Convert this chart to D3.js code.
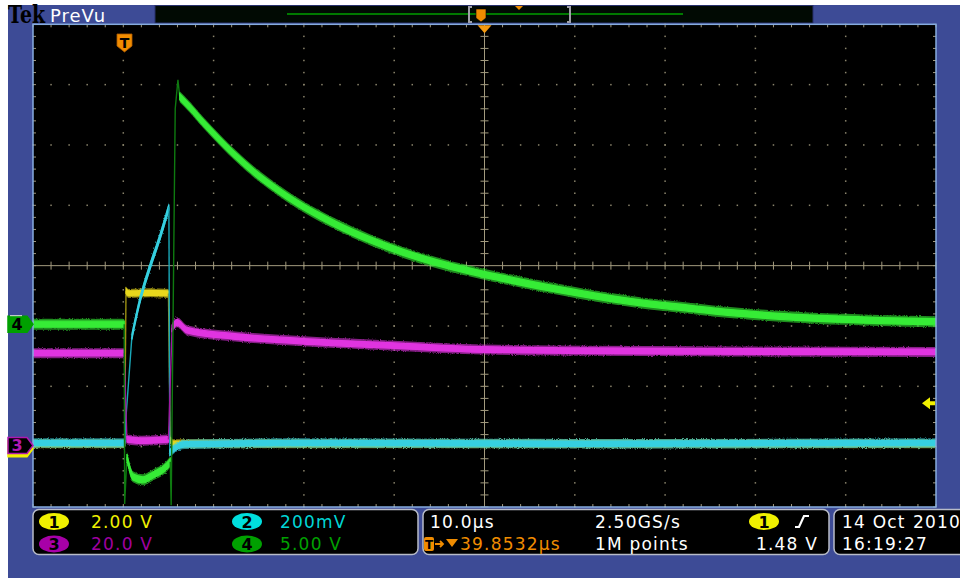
<!DOCTYPE html>
<html>
<head>
<meta charset="utf-8">
<script src="https://cdn.jsdelivr.net/npm/d3@7"></script>
<style>
  body { margin: 0; background: #fff; }
  svg text { font-family: "DejaVu Sans", sans-serif; }
</style>
</head>
<body>
<div id="scope"></div>
<script>
// trace data, [time in µs, position in divisions from centre]
var ch1 = [[0, -2.95], [10.15, -2.95], [10.3, -0.42], [10.6, -0.46], [13, -0.45], [15.0, -0.46], [15.2, -2.88], [15.5, -2.95], [40, -2.95], [100, -2.95]];
var ch2 = [[0, -2.94], [10.15, -2.94], [10.3, -2.5], [10.45, -2.2], [10.95, -1.18], [11.85, -0.57], [12.95, -0.02], [14.05, 0.47], [15.05, 0.97], [15.15, -3.1], [15.75, -3.02], [16.8, -2.96], [30, -2.94], [60, -2.95], [100, -2.94]];
var ch3 = [[0, -1.45], [10.1, -1.45], [10.4, -2.88], [12, -2.9], [15.0, -2.88], [15.4, -1.03], [15.95, -0.94], [17.05, -1.07], [22.1, -1.17], [29.6, -1.25], [40.6, -1.33], [49.9, -1.39], [62, -1.41], [73.9, -1.42], [100, -1.43]];
var ch4 = [[0, -0.97], [10.1, -0.97], [10.15, -3.95], [10.4, -3.17], [11.07, -3.5], [12.18, -3.55], [13.29, -3.47], [14.95, -3.3], [15.2, -3.25], [15.3, -3.97], [15.75, 2.6], [16.05, 3.08],
  [16.25, 2.8], [17.4, 2.62], [18.8, 2.38], [20.7, 2.08], [22.6, 1.8], [24.4, 1.56], [26.3, 1.34], [28.1, 1.15], [29.9, 0.98], [31.8, 0.82], [33.6, 0.68], [37.3, 0.43],
  [41.0, 0.22], [44.7, 0.05], [48.4, -0.09], [51.7, -0.2], [56.9, -0.36], [60.6, -0.46], [64.2, -0.55], [68.0, -0.63], [71.7, -0.69], [75.3, -0.75],
  [79.1, -0.8], [82.7, -0.84], [86.4, -0.87], [90.1, -0.89], [93.8, -0.91], [100, -0.93]];

var readoutRow1 = ["2.00 V", "200mV"];
var readoutRow2 = ["20.0 V", "5.00 V"];
var timebase = "10.0µs", delay = "39.8532µs", sampleRate = "2.50GS/s", recordLen = "1M points";
var trigLevel = "1.48 V", dateStr = ["14 Oct", "2010"], timeStr = "16:19:27";

var W = 960, H = 578;
var x = d3.scaleLinear().domain([0, 100]).range([33, 936]);
var y = d3.scaleLinear().domain([-4, 4]).range([507, 24.3]);

var svg = d3.select("#scope").append("svg").attr("width", W).attr("height", H);

var defs = svg.append("defs");
var glow = defs.append("filter").attr("id", "fuzz").attr("filterUnits", "userSpaceOnUse")
  .attr("x", 0).attr("y", 0).attr("width", W).attr("height", H);
glow.append("feTurbulence").attr("type", "fractalNoise").attr("baseFrequency", "1.4").attr("numOctaves", 1).attr("result", "n");
glow.append("feDisplacementMap").attr("in", "SourceGraphic").attr("in2", "n").attr("scale", 3.5).attr("result", "d");
glow.append("feGaussianBlur").attr("in", "d").attr("stdDeviation", 0.6);
defs.append("clipPath").attr("id", "plotClip").append("rect")
  .attr("x", x(0)).attr("y", y(4)).attr("width", x(100) - x(0)).attr("height", y(-4) - y(4));

// background
svg.append("rect").attr("x", 8).attr("y", 5).attr("width", W - 8).attr("height", H - 5).attr("fill", "#3d4b96");
svg.append("rect").attr("x", x(0)).attr("y", y(4)).attr("width", x(100) - x(0)).attr("height", y(-4) - y(4)).attr("fill", "#000");

// top bar
svg.append("text").attr("x", 8).attr("y", 22.5).attr("font-weight", "bold")
  .attr("font-size", 24).attr("textLength", 37).attr("lengthAdjust", "spacingAndGlyphs")
  .attr("fill", "#000").style("font-family", "DejaVu Serif").text("Tek");
svg.append("text").attr("x", 50).attr("y", 21.5).attr("font-size", 18).attr("letter-spacing", 1).attr("fill", "#fff").text("PreVu");
svg.append("rect").attr("x", 155).attr("y", 5.5).attr("width", 658).attr("height", 17.5).attr("fill", "#010a03").attr("stroke", "#28316c");
svg.append("line").attr("x1", 287).attr("x2", 683).attr("y1", 14).attr("y2", 14).attr("stroke", "#007a00").attr("stroke-width", 2);
svg.append("path").attr("d", "M472,7 L469,7 L469,22 L472,22 M567,7 L570,7 L570,22 L567,22").attr("fill", "none").attr("stroke", "#a0a0a8").attr("stroke-width", 2);
svg.append("path").attr("d", "M476,9 h10 v9 l-5,4 l-5,-4 z").attr("fill", "#f08c00").attr("stroke", "#000").attr("stroke-width", 0.6);
svg.append("path").attr("d", "M515,6 h8 l-4,4 z").attr("fill", "#f08c00");

// graticule
var g = svg.append("g");
var dotCol = "#8a846c", lineCol = "#a29a7e";
var minorX = d3.range(0, 100.01, 2), minorY = d3.range(-4, 4.01, 0.2);
x.ticks(10).forEach(function(t) {
  if (t === 0 || t === 100 || t === 50) return;
  g.selectAll(null).data(minorY).join("rect")
    .attr("x", x(t) - 0.75).attr("y", d => y(d) - 0.75).attr("width", 1.5).attr("height", 1.5).attr("fill", dotCol);
});
y.ticks(8).forEach(function(v) {
  if (v === 4 || v === -4 || v === 0) return;
  g.selectAll(null).data(minorX).join("rect")
    .attr("x", d => x(d) - 0.75).attr("y", y(v) - 0.75).attr("width", 1.5).attr("height", 1.5).attr("fill", dotCol);
});
g.append("line").attr("x1", x(0)).attr("x2", x(100)).attr("y1", y(0)).attr("y2", y(0)).attr("stroke", lineCol);
g.append("line").attr("x1", x(50)).attr("x2", x(50)).attr("y1", y(4)).attr("y2", y(-4)).attr("stroke", lineCol);
g.selectAll(null).data(minorX).join("line")
  .attr("x1", d => x(d)).attr("x2", d => x(d)).attr("y1", y(0) - 4).attr("y2", y(0) + 4).attr("stroke", lineCol);
g.selectAll(null).data(minorY).join("line")
  .attr("y1", d => y(d)).attr("y2", d => y(d)).attr("x1", x(50) - 4).attr("x2", x(50) + 4).attr("stroke", lineCol);
// edge ticks
g.selectAll(null).data(minorX).join("path")
  .attr("d", d => "M" + x(d) + "," + y(4) + "v3 M" + x(d) + "," + y(-4) + "v-3").attr("stroke", lineCol);
g.selectAll(null).data(minorY).join("path")
  .attr("d", d => "M" + x(0) + "," + y(d) + "h3 M" + x(100) + "," + y(d) + "h-3").attr("stroke", lineCol);

// traces: slow parts are a vertical noise band, fast edges a thin line
var tg = svg.append("g").attr("clip-path", "url(#plotClip)");
function band(h) {
  return d3.area().curve(d3.curveMonotoneX).x(d => d[0]).y0(d => d[1] + h / 2).y1(d => d[1] - h / 2);
}
function drawTrace(data, core, dim, h) {
  var pts = data.map(d => [x(d[0]), y(d[1])]);
  var runs = [], cur = null;
  for (var i = 1; i < pts.length; i++) {
    var steep = Math.abs(pts[i][1] - pts[i - 1][1]) > 8 * Math.abs(pts[i][0] - pts[i - 1][0]);
    if (!cur || cur.steep !== steep) { cur = {steep: steep, pts: [pts[i - 1]]}; runs.push(cur); }
    cur.pts.push(pts[i]);
  }
  runs.forEach(function(r) {
    if (r.steep) {
      tg.append("path").attr("d", d3.line()(r.pts)).attr("fill", "none").attr("stroke", dim).attr("stroke-width", 1.4);
    } else {
      tg.append("path").attr("d", band(h)(r.pts)).attr("fill", core).attr("opacity", 0.6).attr("filter", "url(#fuzz)");
      tg.append("path").attr("d", band(h * 0.55)(r.pts)).attr("fill", core).attr("stroke", core).attr("stroke-width", 1.3);
    }
  });
}
drawTrace(ch1, "#e8d81c", "#9c9010", 9);
drawTrace(ch2, "#36d0e0", "#1aa8b8", 9.5);
drawTrace(ch3, "#e034e0", "#a018a0", 10);
drawTrace(ch4, "#36ec36", "#0e7a10", 11);

// frame
svg.append("rect").attr("x", x(0)).attr("y", y(4)).attr("width", x(100) - x(0)).attr("height", y(-4) - y(4))
  .attr("fill", "none").attr("stroke", "#86acdf").attr("stroke-width", 1.5);

// trigger markers
svg.append("path").attr("d", "M" + (x(50) - 7) + "," + (y(4) + 1) + " h14 l-7,8 z").attr("fill", "#f59a10");
svg.append("path").attr("d", "M117,34 h15 v12 l-7.5,6 l-7.5,-6 z").attr("fill", "#f08c00").attr("stroke", "#b05a00").attr("stroke-width", 0.8);
svg.append("text").attr("x", 124.5).attr("y", 48).attr("text-anchor", "middle").attr("font-size", 14).attr("font-weight", "bold").attr("fill", "#000").text("T");
// trigger level arrow (ch1, 1.48 V at 2 V/div above ch1 ground)
var trigY = y(-3.02 + 1.48 / 2);
svg.append("path").attr("d", "M922," + trigY + " l8,-6 v4 h5 v4 h-5 v4 z").attr("fill", "#f0f000");

// channel ground markers on the left
function gndMarker(yy, fill, stroke, label, txtCol) {
  svg.append("path").attr("d", "M8," + (yy - 8) + " h19 l6,8 l-6,8 h-19 z")
    .attr("fill", fill).attr("stroke", stroke).attr("stroke-width", 1.5);
  svg.append("text").attr("x", 17).attr("y", yy + 6).attr("text-anchor", "middle").attr("font-size", 16).attr("font-weight", "bold")
    .attr("fill", txtCol).text(label);
}
gndMarker(y(-3.02) + 1, "#f0f000", "#f0f000", "", "#000");
gndMarker(y(-2.98), "#000", "#b018b0", "3", "#b018b0");
gndMarker(y(-0.97), "#00a000", "#00a000", "4", "#000");
svg.append("line").attr("x1", 10).attr("x2", 22).attr("y1", y(-0.97) - 8.5).attr("y2", y(-0.97) - 8.5).attr("stroke", "#e0e0e0");

// readout boxes
function box(x0, w) {
  svg.append("rect").attr("x", x0).attr("y", 509.5).attr("width", w).attr("height", 45).attr("rx", 6)
    .attr("fill", "#000").attr("stroke", "#b8bcc8").attr("stroke-width", 1.5);
}
box(33, 385); box(423, 406); box(834, 140);

function badge(cx, cy, fill, label) {
  svg.append("ellipse").attr("cx", cx).attr("cy", cy).attr("rx", 15).attr("ry", 8.5).attr("fill", fill);
  svg.append("text").attr("x", cx).attr("y", cy + 6).attr("text-anchor", "middle").attr("font-size", 16).attr("font-weight", "bold").attr("fill", "#000").text(label);
}
function txt(xx, yy, s, col, anchor) {
  svg.append("text").attr("x", xx).attr("y", yy).attr("font-size", 17).attr("letter-spacing", 1.2)
    .attr("text-anchor", anchor || "start").attr("fill", col).text(s);
}
var r1 = 527.5, r2 = 550;
badge(54, 521.5, "#f0f000", "1"); txt(91, r1, readoutRow1[0], "#f0f000");
badge(247, 521.5, "#00dede", "2"); txt(280, r1, readoutRow1[1], "#00d6d6");
badge(54, 544, "#a800a8", "3"); txt(91, r2, readoutRow2[0], "#a000a0");
badge(247, 544, "#00a000", "4"); txt(280, r2, readoutRow2[1], "#00a000");

txt(430, r1, timebase, "#fff");
svg.append("rect").attr("x", 424).attr("y", 537).attr("width", 10).attr("height", 14).attr("rx", 2).attr("fill", "#f08c00");
svg.append("text").attr("x", 429).attr("y", 549).attr("text-anchor", "middle").attr("font-size", 12).attr("font-weight", "bold").attr("fill", "#000").text("T");
svg.append("path").attr("d", "M435,544 h8 M440,541 l3,3 l-3,3").attr("stroke", "#f08c00").attr("stroke-width", 1.8).attr("fill", "none");
svg.append("path").attr("d", "M446,539 h12 l-6,8 z").attr("fill", "#f08c00");
txt(460, r2, delay, "#f08c00");
txt(595, r1, sampleRate, "#fff");
txt(595, r2, recordLen, "#fff");
badge(764, 521.5, "#f0f000", "1");
svg.append("path").attr("d", "M795,527 h4 l5,-11 h5").attr("stroke", "#fff").attr("stroke-width", 2.2).attr("fill", "none");
txt(818, r2, trigLevel, "#fff", "end");
txt(842, r1, dateStr[0], "#fff");
txt(913, r1, dateStr[1], "#fff");
txt(842, r2, timeStr, "#fff");
</script>
</body>
</html>
